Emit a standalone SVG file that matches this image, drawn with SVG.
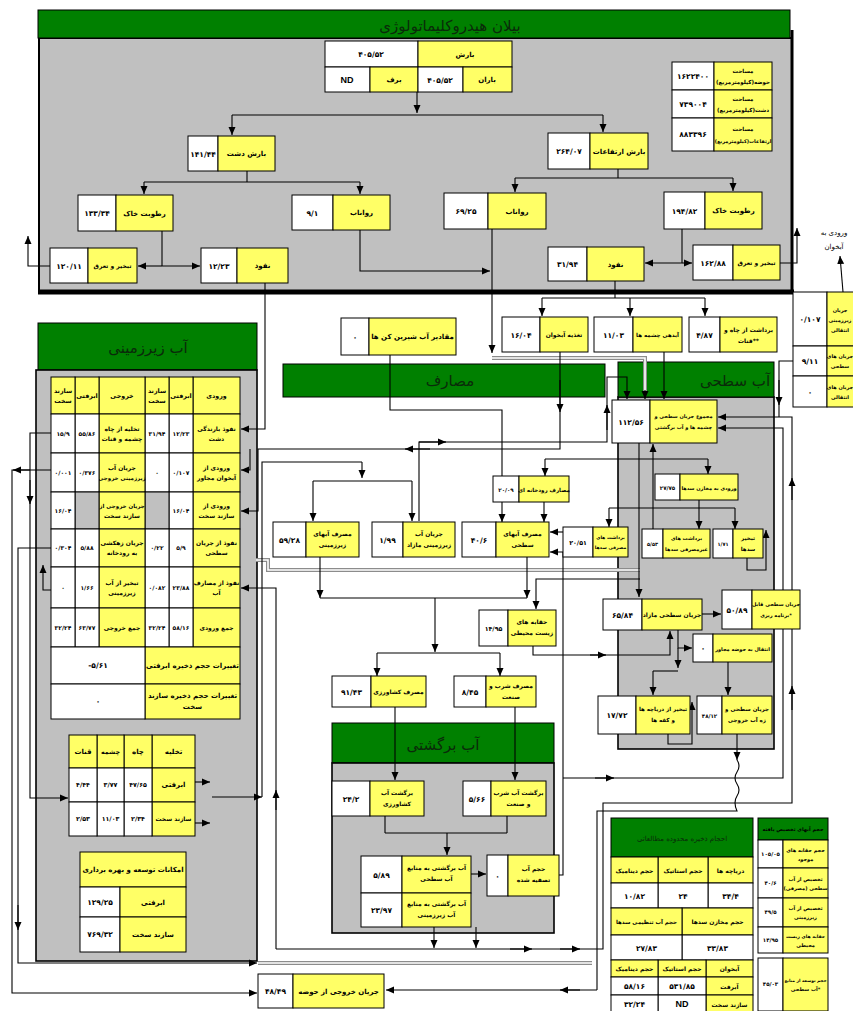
<svg xmlns="http://www.w3.org/2000/svg" width="853" height="1011" viewBox="0 0 853 1011">
<defs>
<style>
.w{fill:#fff;stroke:#000;stroke-width:1}
.y{fill:#ffff66;stroke:#000;stroke-width:1}
.gc{fill:#c0c0c0;stroke:#000;stroke-width:1}
.pn{fill:#c0c0c0;stroke:#000;stroke-width:1.6}
.hd{fill:#008000;stroke:#000;stroke-width:1}
text{font-family:"DejaVu Sans",sans-serif;font-weight:bold;text-anchor:middle;fill:#000}
.l{font-size:7px}
.m{font-size:6.3px}
.q{font-size:6px}
.k{font-size:5.5px}
.z{font-size:5px}
.s{font-size:5.5px}
.n{font-size:7.5px}
.h{font-size:15px;font-weight:normal;fill:#0a2a0a}
.c{fill:none;stroke:#000;stroke-width:1.1}
.a{marker-end:url(#ar)}
.gl{fill:none;stroke:#8c8c8c;stroke-width:4}
.gi{fill:none;stroke:#fff;stroke-width:1.6}
</style>
<marker id="ar" markerUnits="userSpaceOnUse" markerWidth="8" markerHeight="8" viewBox="0 0 8 8" refX="8" refY="4" orient="auto"><path d="M0,0.5 L8,4 L0,7.5z" fill="#000"/></marker>
</defs>
<rect width="853" height="1011" fill="#fff"/>

<!-- panels -->
<g id="hydro-panel">
<rect x="39" y="38" width="753" height="254" fill="#c0c0c0" stroke="#000" stroke-width="2"/>
<rect class="hd" x="38" y="10" width="752" height="28"/>
<text class="h" x="450" y="31">بیلان هیدروکلیماتولوژی</text>
<line x1="38" y1="292" x2="794" y2="292" stroke="#000" stroke-width="5"/>
<line x1="792" y1="30" x2="792" y2="294" stroke="#000" stroke-width="3"/>
</g>
<g id="gw-panel">
<rect class="hd" x="38" y="323" width="219" height="47"/>
<text class="h" x="148" y="353">آب زیرزمینی</text>
<rect class="pn" x="36" y="370" width="221" height="591"/>
</g>
<g id="use-panel">
<rect class="hd" x="283" y="364" width="322" height="33"/>
<text class="h" x="450" y="386">مصارف</text>
</g>
<g id="sw-panel">
<rect class="pn" x="618" y="397" width="156" height="352"/>
<rect class="hd" x="618" y="362" width="156" height="35"/>
<text class="h" x="735" y="386">آب سطحی</text>
</g>
<g id="rt-panel">
<rect class="hd" x="332" y="723" width="222" height="40"/>
<text class="h" x="443" y="750">آب برگشتی</text>
<rect class="pn" x="332" y="763" width="222" height="170"/>
</g>

<!-- connectors -->
<g id="connectors">
<path class="gl" d="M492,358 H645 V393"/><path class="gi" d="M492,358 H645 V393"/>
<path class="gl" d="M640,570 H268 V560 H256"/><path class="gi" d="M640,570 H268 V560 H256"/>
<path class="gl" d="M258,963 H592"/><path class="gi" d="M258,963 H592"/>
<path class="c a" d="M417,92 V113"/>
<path class="c" d="M232,115 H603"/>
<path class="c a" d="M232,115 V135"/>
<path class="c a" d="M603,115 V132"/>
<path class="c" d="M247,171 V182 M144,182 H360"/>
<path class="c a" d="M144,182 V194"/>
<path class="c a" d="M360,182 V194"/>
<path class="c" d="M618,169 V178 M515,178 H733"/>
<path class="c a" d="M515,178 V192"/>
<path class="c a" d="M733,178 V191"/>
<path class="c" d="M162,231 V266"/>
<path class="c a" d="M162,266 H138"/>
<path class="c a" d="M162,266 H200"/>
<path class="c" d="M682,229 V263"/>
<path class="c a" d="M682,263 H645"/>
<path class="c a" d="M682,263 H692"/>
<path class="c a" d="M50,266 H28 V236"/>
<path class="c a" d="M780,263 H797 V228"/>
<path class="c a" d="M360,230 V271 H490"/>
<path class="c a" d="M492,229 V353"/>
<path class="c a" d="M645,390 V399"/>
<path class="c a" d="M265,283 V429 H241"/>
<path class="c" d="M615,281 V298 M542,298 H705"/>
<path class="c a" d="M542,298 V316"/>
<path class="c a" d="M630,298 V316"/>
<path class="c a" d="M705,298 V316"/>
<path class="c a" d="M843,292 L840,256"/>
<path class="c a" d="M664,352 V399"/>
<path class="c a" d="M419,521 V442 H607 V377 H627 V399"/>
<path class="c a" d="M419,442 H446"/>
<path class="c a" d="M607,430 V405"/>
<path class="c" d="M390,355 V410 H502 V476"/>
<path class="c a" d="M560,352 V449 H258 V511 H241"/>
<path class="c a" d="M560,380 V412"/>
<path class="c a" d="M430,449 H405"/>
<path class="c a" d="M250,449 V470 H241"/>
<path class="c" d="M262,797 V462 H362"/>
<path class="c a" d="M362,462 V478"/>
<path class="c" d="M313,481 H412"/>
<path class="c a" d="M313,481 V521"/>
<path class="c a" d="M412,481 V521"/>
<path class="c a" d="M195,782 H210"/>
<path class="c a" d="M195,823 H210"/>
<path class="c a" d="M212,797 H262"/>
<path class="c a" d="M276,949 V588 H241"/>
<path class="c a" d="M276,810 V790"/>
<path class="c a" d="M51,433 H30 V798 H68"/>
<path class="c a" d="M30,480 V504"/>
<path class="c a" d="M12,987 V993 H257"/>
<path class="c" d="M51,470 H12 V987"/>
<path class="c a" d="M30,470 H13"/>
<path class="c a" d="M51,548 H18 V963 H257"/>
<path class="c a" d="M18,905 V930"/>
<path class="c a" d="M51,590 H43 V565"/>
<path class="c a" d="M639,443 V597"/>
<path class="c" d="M545,459 H708"/>
<path class="c a" d="M545,459 V476"/>
<path class="c a" d="M708,459 V474"/>
<path class="c a" d="M653,529 V444"/>
<path class="c" d="M699,500 V508 M609,508 H735"/>
<path class="c a" d="M609,508 V527"/>
<path class="c a" d="M699,508 V529"/>
<path class="c a" d="M735,508 V529"/>
<path class="c a" d="M502,502 V522"/>
<path class="c a" d="M544,502 V522"/>
<path class="c a" d="M563,532 H550"/>
<path class="c a" d="M747,558 V570 H766 V530"/>
<path class="c a" d="M320,557 V598"/>
<path class="c a" d="M527,557 V598"/>
<path class="c" d="M320,598 H527"/>
<path class="c a" d="M435,598 V652"/>
<path class="c" d="M377,653 H500"/>
<path class="c a" d="M377,653 V676"/>
<path class="c a" d="M500,653 V676"/>
<path class="c a" d="M640,579 H536 V609"/>
<path class="c a" d="M533,646 V655 H670 V631"/>
<path class="c a" d="M590,655 H606"/>
<path class="c a" d="M702,614 H721"/>
<path class="c a" d="M678,630 V648 H692"/>
<path class="c a" d="M678,648 V668"/>
<path class="c" d="M653,671 H678"/>
<path class="c a" d="M653,671 V695"/>
<path class="c a" d="M728,662 V695"/>
<path class="c a" d="M668,734 V744 H692 V702"/>
<path class="c a" d="M737,734 V760"/>
<path class="c" d="M737,760 q4,6 0,12 q-4,6 0,12 q4,6 0,12 q-4,6 0,15 H597 V990"/>
<path class="c a" d="M597,990 H386"/>
<path class="c a" d="M580,990 H560"/>
<path class="c a" d="M559,875 H563 V552 H550"/>
<path class="c a" d="M563,778 H783 V428 H718"/>
<path class="c a" d="M595,778 H614"/>
<path class="c a" d="M434,927 V948"/>
<path class="c a" d="M476,927 V948"/>
<path class="c a" d="M276,949 H603 V803 H792 V417 H718"/>
<path class="c a" d="M510,949 H532"/>
<path class="c a" d="M560,949 H580"/>
<path class="c a" d="M792,710 V686"/>
<path class="c a" d="M792,500 V478"/>
<path class="c" d="M793,361 H779 V417"/>
<path class="c a" d="M779,380 V405"/>
<path class="c a" d="M395,707 V780"/>
<path class="c a" d="M515,707 V780"/>
<path class="c" d="M385,816 V833 M507,816 V833 M385,833 H507"/>
<path class="c a" d="M447,833 V855"/>
<path class="c a" d="M471,874 H486"/>
</g>

<!-- top section nodes -->
<g id="n-rain">
<rect class="w" x="325" y="41" width="93" height="26"/><text class="n" x="371" y="57">۴۰۵/۵۲</text>
<rect class="y" x="418" y="41" width="94" height="26"/><text class="l" x="465" y="57">بارش</text>
<rect class="w" x="325" y="67" width="45" height="25"/><text x="347" y="83" font-size="9" style="font-family:'Liberation Sans',sans-serif">ND</text>
<rect class="y" x="370" y="67" width="48" height="25"/><text class="l" x="394" y="82">برف</text>
<rect class="w" x="418" y="67" width="45" height="25"/><text class="n" x="440" y="83">۴۰۵/۵۲</text>
<rect class="y" x="463" y="67" width="49" height="25"/><text class="l" x="487" y="82">باران</text>
</g>
<g id="n-area">
<rect class="w" x="672" y="62" width="42" height="28"/><text class="n" x="693" y="79">۱۶۲۲۴۰۰</text>
<rect class="y" x="714" y="62" width="58" height="28"/><text class="s" x="743" y="73">مساحت</text><text class="s" x="743" y="84">حوضه(کیلومترمربع)</text>
<rect class="w" x="672" y="90" width="42" height="28"/><text class="n" x="693" y="107">۷۳۹۰۰۴</text>
<rect class="y" x="714" y="90" width="58" height="28"/><text class="s" x="743" y="101">مساحت</text><text class="s" x="743" y="112">دشت(کیلومترمربع)</text>
<rect class="w" x="672" y="118" width="42" height="33"/><text class="n" x="693" y="137">۸۸۳۳۹۶</text>
<rect class="y" x="714" y="118" width="58" height="33"/><text class="s" x="743" y="131">مساحت</text><text class="z" x="743" y="143">ارتفاعات(کیلومترمربع)</text>
</g>
<g id="n-plain-rain"><rect class="w" x="188" y="136" width="30" height="35"/><text class="n" x="203" y="157">۱۴۱/۴۴</text><rect class="y" x="218" y="136" width="57" height="35"/><text class="l" x="246.5" y="156">بارش دشت</text></g>
<g id="n-soil-l"><rect class="w" x="78" y="195" width="38" height="36"/><text class="n" x="97" y="216">۱۳۳/۳۴</text><rect class="y" x="116" y="195" width="57" height="36"/><text class="l" x="144.5" y="215.5">رطوبت خاک</text></g>
<g id="n-runoff-l"><rect class="w" x="292" y="195" width="41" height="35"/><text class="n" x="312.5" y="215.5">۹/۱</text><rect class="y" x="333" y="195" width="57" height="35"/><text class="l" x="361.5" y="215">رواناب</text></g>
<g id="n-et-l"><rect class="w" x="50" y="248" width="38" height="35"/><text class="n" x="69" y="268.5">۱۲۰/۱۱</text><rect class="y" x="88" y="248" width="49" height="35"/><text class="q" x="112.5" y="268">تبخیر و تعرق</text></g>
<g id="n-inf-l"><rect class="w" x="201" y="248" width="36" height="35"/><text class="n" x="219" y="268.5">۱۲/۲۳</text><rect class="y" x="237" y="248" width="51" height="35"/><text class="l" x="262.5" y="268">نفوذ</text></g>
<g id="n-mt-rain"><rect class="w" x="548" y="133" width="42" height="36"/><text class="n" x="569" y="154">۲۶۴/۰۷</text><rect class="y" x="590" y="133" width="58" height="36"/><text class="l" x="619" y="153.5">بارش ارتفاعات</text></g>
<g id="n-runoff-r"><rect class="w" x="444" y="193" width="44" height="36"/><text class="n" x="466" y="214">۶۹/۲۵</text><rect class="y" x="488" y="193" width="58" height="36"/><text class="l" x="517" y="213.5">رواناب</text></g>
<g id="n-soil-r"><rect class="w" x="664" y="192" width="41" height="37"/><text class="n" x="684.5" y="213.5">۱۹۴/۸۲</text><rect class="y" x="705" y="192" width="57" height="37"/><text class="l" x="733.5" y="213">رطوبت خاک</text></g>
<g id="n-et-r"><rect class="w" x="693" y="245" width="40" height="35"/><text class="n" x="713" y="265.5">۱۶۲/۸۸</text><rect class="y" x="733" y="245" width="47" height="35"/><text class="q" x="756.5" y="265">تبخیر و تعرق</text></g>
<g id="n-inf-r"><rect class="w" x="548" y="247" width="39" height="34"/><text class="n" x="567.5" y="267">۳۱/۹۴</text><rect class="y" x="587" y="247" width="57" height="34"/><text class="l" x="615.5" y="266.5">نفوذ</text></g>
<g id="lbl-aq"><text class="l" x="834" y="235" style="font-weight:normal">ورودی به</text><text class="l" x="834" y="249" style="font-weight:normal">آبخوان</text></g>

<!-- middle row -->
<g id="n-desal"><rect class="w" x="341" y="318" width="28" height="37"/><text class="n" x="355" y="339.5">۰</text><rect class="y" x="369" y="318" width="87" height="37"/><text class="l" x="412.5" y="339">مقادیر آب شیرین کن ها</text></g>
<g id="n-recharge"><rect class="w" x="502" y="317" width="38" height="35"/><text class="n" x="521" y="337.5">۱۶/۰۴</text><rect class="y" x="540" y="317" width="48" height="35"/><text class="q" x="564" y="337">تغذیه آبخوان</text></g>
<g id="n-springs"><rect class="w" x="594" y="317" width="39" height="35"/><text class="n" x="613.5" y="337.5">۱۱/۰۳</text><rect class="y" x="633" y="317" width="49" height="35"/><text class="k" x="657.5" y="337">آبدهی چشمه ها</text></g>
<g id="n-wells"><rect class="w" x="689" y="317" width="31" height="35"/><text class="n" x="704.5" y="337.5">۴/۸۷</text><rect class="y" x="720" y="317" width="57" height="35"/><text class="q" x="748.5" y="332">برداشت از چاه و</text><text class="q" x="748.5" y="343">قنات**</text></g>
<g id="n-transfer">
<rect class="w" x="793" y="292" width="34" height="54"/><text class="n" x="810" y="322">۰/۱۰۷</text>
<rect class="y" x="827" y="292" width="40" height="54"/><text class="z" x="840" y="311.5">جریان</text><text class="z" x="840" y="321.5">زیرزمینی</text><text class="z" x="840" y="331.5">انتقالی</text>
<rect class="w" x="793" y="346" width="34" height="30"/><text class="n" x="810" y="364">۹/۱۱</text>
<rect class="y" x="827" y="346" width="40" height="30"/><text class="z" x="840" y="358">جریان های</text><text class="z" x="840" y="368">سطحی</text>
<rect class="w" x="793" y="376" width="34" height="31"/><text class="n" x="810" y="394.5">۰</text>
<rect class="y" x="827" y="376" width="40" height="31"/><text class="z" x="840" y="388.5">جریان های</text><text class="z" x="840" y="398.5">انتقالی</text>
</g>

<!-- groundwater table -->
<g id="gw-table">
<rect class="y" x="193" y="377" width="47" height="37"/><text class="m" x="216.5" y="398">ورودی</text>
<rect class="y" x="169" y="377" width="24" height="37"/><text class="m" x="181" y="398">ابرفتی</text>
<rect class="y" x="145" y="377" width="24" height="37"/><text class="m" x="157" y="393">سازند</text><text class="m" x="157" y="403">سخت</text>
<rect class="y" x="99" y="377" width="46" height="37"/><text class="m" x="122" y="398">خروجی</text>
<rect class="y" x="75" y="377" width="24" height="37"/><text class="m" x="87" y="398">ابرفتی</text>
<rect class="y" x="51" y="377" width="24" height="37"/><text class="m" x="63" y="393">سازند</text><text class="m" x="63" y="403">سخت</text>

<rect class="y" x="193" y="414" width="47" height="39"/><text class="q" x="216.5" y="431">نفوذ بارندگی</text><text class="q" x="216.5" y="441">دشت</text>
<rect class="w" x="169" y="414" width="24" height="39"/><text class="q" x="181" y="436">۱۲/۲۳</text>
<rect class="w" x="145" y="414" width="24" height="39"/><text class="q" x="157" y="436">۳۱/۹۴</text>
<rect class="y" x="99" y="414" width="46" height="39"/><text class="q" x="122" y="431">تخلیه از چاه</text><text class="q" x="122" y="441">چشمه و قنات</text>
<rect class="w" x="75" y="414" width="24" height="39"/><text class="q" x="87" y="436">۵۵/۸۶</text>
<rect class="w" x="51" y="414" width="24" height="39"/><text class="q" x="63" y="436">۱۵/۹</text>

<rect class="y" x="193" y="453" width="47" height="39"/><text class="q" x="216.5" y="470">ورودی از</text><text class="q" x="216.5" y="480">آبخوان مجاور</text>
<rect class="w" x="169" y="453" width="24" height="39"/><text class="q" x="181" y="475">۰/۱۰۷</text>
<rect class="w" x="145" y="453" width="24" height="39"/><text class="q" x="157" y="475">۰</text>
<rect class="y" x="99" y="453" width="46" height="39"/><text class="q" x="122" y="470">جریان آب</text><text class="k" x="122" y="480">زیرزمینی خروجی</text>
<rect class="w" x="75" y="453" width="24" height="39"/><text class="q" x="87" y="475">۰/۳۷۶</text>
<rect class="w" x="51" y="453" width="24" height="39"/><text class="q" x="63" y="475">۰/۰۰۱</text>

<rect class="y" x="193" y="492" width="47" height="37"/><text class="q" x="216.5" y="508">ورودی از</text><text class="q" x="216.5" y="518">سازند سخت</text>
<rect class="w" x="169" y="492" width="24" height="37"/><text class="q" x="181" y="513">۱۶/۰۴</text>
<rect class="gc" x="145" y="492" width="24" height="37"/>
<rect class="y" x="99" y="492" width="46" height="37"/><text class="k" x="122" y="508">جریان خروجی از</text><text class="q" x="122" y="518">سازند سخت</text>
<rect class="gc" x="75" y="492" width="24" height="37"/>
<rect class="w" x="51" y="492" width="24" height="37"/><text class="q" x="63" y="513">۱۶/۰۴</text>

<rect class="y" x="193" y="529" width="47" height="38"/><text class="q" x="216.5" y="545">نفوذ از جریان</text><text class="q" x="216.5" y="555">سطحی</text>
<rect class="w" x="169" y="529" width="24" height="38"/><text class="q" x="181" y="550">۵/۹</text>
<rect class="w" x="145" y="529" width="24" height="38"/><text class="q" x="157" y="550">۰/۲۲</text>
<rect class="y" x="99" y="529" width="46" height="38"/><text class="q" x="122" y="545">جریان زهکشی</text><text class="q" x="122" y="555">به رودخانه</text>
<rect class="w" x="75" y="529" width="24" height="38"/><text class="q" x="87" y="550">۵/۸۸</text>
<rect class="w" x="51" y="529" width="24" height="38"/><text class="q" x="63" y="550">۰/۳۰۴</text>

<rect class="y" x="193" y="567" width="47" height="41"/><text class="q" x="216.5" y="585">نفوذ از مصارف</text><text class="q" x="216.5" y="595">آب</text>
<rect class="w" x="169" y="567" width="24" height="41"/><text class="q" x="181" y="590">۲۳/۸۸</text>
<rect class="w" x="145" y="567" width="24" height="41"/><text class="q" x="157" y="590">۰/۰۸۲</text>
<rect class="y" x="99" y="567" width="46" height="41"/><text class="q" x="122" y="585">تبخیر از آب</text><text class="q" x="122" y="595">زیرزمینی</text>
<rect class="w" x="75" y="567" width="24" height="41"/><text class="q" x="87" y="590">۱/۶۶</text>
<rect class="w" x="51" y="567" width="24" height="41"/><text class="q" x="63" y="590">۰</text>

<rect class="y" x="193" y="608" width="47" height="39"/><text class="q" x="216.5" y="630">جمع ورودی</text>
<rect class="w" x="169" y="608" width="24" height="39"/><text class="q" x="181" y="630">۵۸/۱۶</text>
<rect class="w" x="145" y="608" width="24" height="39"/><text class="q" x="157" y="630">۳۲/۲۴</text>
<rect class="y" x="99" y="608" width="46" height="39"/><text class="q" x="122" y="630">جمع خروجی</text>
<rect class="w" x="75" y="608" width="24" height="39"/><text class="q" x="87" y="630">۶۳/۷۷</text>
<rect class="w" x="51" y="608" width="24" height="39"/><text class="q" x="63" y="630">۳۲/۲۴</text>

<rect class="y" x="145" y="647" width="95" height="37"/><text class="l" x="192.5" y="668">تغییرات حجم ذخیره ابرفتی</text>
<rect class="w" x="51" y="647" width="94" height="37"/><text class="n" x="98" y="668">-۵/۶۱</text>
<rect class="y" x="145" y="684" width="95" height="35"/><text class="l" x="192.5" y="698">تغییرات حجم ذخیره سازند</text><text class="l" x="192.5" y="709">سخت</text>
<rect class="w" x="51" y="684" width="94" height="35"/><text class="n" x="98" y="704">۰</text>
</g>

<g id="discharge-table">
<rect class="y" x="152" y="735" width="43" height="33"/><text class="l" x="173.5" y="754">تخلیه</text>
<rect class="y" x="124" y="735" width="28" height="33"/><text class="l" x="138" y="754">چاه</text>
<rect class="y" x="97" y="735" width="27" height="33"/><text class="m" x="110.5" y="754">چشمه</text>
<rect class="y" x="69" y="735" width="28" height="33"/><text class="l" x="83" y="754">قنات</text>
<rect class="y" x="152" y="768" width="43" height="34"/><text class="l" x="173.5" y="787">ابرفتی</text>
<rect class="w" x="124" y="768" width="28" height="34"/><text class="m" x="138" y="787">۴۷/۶۵</text>
<rect class="w" x="97" y="768" width="27" height="34"/><text class="m" x="110.5" y="787">۳/۷۷</text>
<rect class="w" x="69" y="768" width="28" height="34"/><text class="m" x="83" y="787">۴/۴۴</text>
<rect class="y" x="152" y="802" width="43" height="34"/><text class="q" x="173.5" y="821">سازند سخت</text>
<rect class="w" x="124" y="802" width="28" height="34"/><text class="m" x="138" y="821">۲/۳۴</text>
<rect class="w" x="97" y="802" width="27" height="34"/><text class="m" x="110.5" y="821">۱۱/۰۳</text>
<rect class="w" x="69" y="802" width="28" height="34"/><text class="m" x="83" y="821">۲/۵۳</text>
</g>
<g id="dev-table">
<rect class="y" x="80" y="852" width="106" height="35"/><text class="l" x="133" y="872">امکانات توسعه و بهره برداری</text>
<rect class="w" x="80" y="887" width="40" height="30"/><text class="n" x="100" y="905">۱۲۹/۲۵</text>
<rect class="y" x="120" y="887" width="66" height="30"/><text class="l" x="153" y="905">ابرفتی</text>
<rect class="w" x="80" y="917" width="40" height="35"/><text class="n" x="100" y="937">۷۶۹/۳۲</text>
<rect class="y" x="120" y="917" width="66" height="35"/><text class="l" x="153" y="937">سازند سخت</text>
</g>

<!-- consumption -->
<g id="n-river-use"><rect class="w" x="493" y="476" width="26" height="26"/><text class="k" x="506" y="491.5">۲۰/۰۹</text><rect class="y" x="519" y="476" width="50" height="26"/><text class="k" x="544" y="491.5">مصارف رودخانه ای</text></g>
<g id="n-sw-use"><rect class="w" x="462" y="522" width="34" height="35"/><text class="n" x="479" y="542.5">۴۰/۶</text><rect class="y" x="496" y="522" width="53" height="35"/><text class="q" x="522.5" y="535.5">مصرف آبهای</text><text class="q" x="522.5" y="546.5">سطحی</text></g>
<g id="n-gw-surplus"><rect class="w" x="372" y="522" width="31" height="35"/><text class="n" x="387.5" y="542.5">۱/۹۹</text><rect class="y" x="403" y="522" width="52" height="35"/><text class="q" x="429" y="535.5">جریان آب</text><text class="q" x="429" y="546.5">زیرزمینی مازاد</text></g>
<g id="n-gw-use"><rect class="w" x="273" y="522" width="33" height="35"/><text class="n" x="289.5" y="542.5">۵۹/۲۸</text><rect class="y" x="306" y="522" width="53" height="35"/><text class="q" x="332.5" y="535.5">مصرف آبهای</text><text class="q" x="332.5" y="546.5">زیرزمینی</text></g>
<g id="n-env"><rect class="w" x="479" y="610" width="29" height="36"/><text class="m" x="493.5" y="631">۱۴/۹۵</text><rect class="y" x="508" y="610" width="48" height="36"/><text class="q" x="532" y="624">حقابه های</text><text class="q" x="532" y="635">زیست محیطی</text></g>
<g id="n-agri"><rect class="w" x="332" y="676" width="39" height="31"/><text class="n" x="351.5" y="694.5">۹۱/۴۳</text><rect class="y" x="371" y="676" width="55" height="31"/><text class="q" x="398.5" y="694">مصرف کشاورزی</text></g>
<g id="n-dom"><rect class="w" x="454" y="676" width="32" height="31"/><text class="n" x="470" y="694.5">۸/۴۵</text><rect class="y" x="486" y="676" width="50" height="31"/><text class="q" x="511" y="688">مصرف شرب و</text><text class="q" x="511" y="699">صنعت</text></g>

<!-- surface water -->
<g id="n-sw-total"><rect class="w" x="612" y="400" width="38" height="43"/><text class="n" x="631" y="424.5">۱۱۲/۵۶</text><rect class="y" x="650" y="400" width="67" height="43"/><text class="z" x="683.5" y="418">مجموع جریان سطحی و</text><text class="z" x="683.5" y="429">چشمه ها و آب برگشتی</text></g>
<g id="n-dam-in"><rect class="w" x="655" y="474" width="25" height="26"/><text class="k" x="667.5" y="489.5">۲۷/۷۵</text><rect class="y" x="680" y="474" width="58" height="26"/><text class="z" x="709" y="489.5">ورودی به مخازن سدها</text></g>
<g id="n-dam-cons"><rect class="w" x="563" y="527" width="30" height="30"/><text class="m" x="578" y="545">۲۰/۵۱</text><rect class="y" x="593" y="527" width="35" height="30"/><text class="z" x="610.5" y="539" style="font-size:4.6px">برداشت های</text><text class="z" x="610.5" y="549" style="font-size:4.6px">مصرفی سدها</text></g>
<g id="n-dam-noncons"><rect class="w" x="642" y="529" width="21" height="29"/><text class="z" x="652.5" y="546">۵/۵۳</text><rect class="y" x="663" y="529" width="47" height="29"/><text class="z" x="686.5" y="540">برداشت های</text><text class="z" x="686.5" y="550.5">غیرمصرفی سدها</text></g>
<g id="n-dam-evap"><rect class="w" x="713" y="529" width="20" height="29"/><text class="z" x="723" y="546">۱/۷۱</text><rect class="y" x="733" y="529" width="30" height="29"/><text class="k" x="748" y="540">تبخیر</text><text class="k" x="748" y="550.5">سدها</text></g>
<g id="n-sw-surplus"><rect class="w" x="603" y="599" width="39" height="31"/><text class="n" x="622.5" y="617.5">۶۵/۸۴</text><rect class="y" x="642" y="599" width="60" height="31"/><text class="q" x="672" y="617">جریان سطحی مازاد</text></g>
<g id="n-plannable"><rect class="w" x="722" y="590" width="30" height="39"/><text class="n" x="737" y="612.5">۵۰/۸۹</text><rect class="y" x="752" y="590" width="48" height="39"/><text class="z" x="776" y="606">جریان سطحی قابل</text><text class="z" x="776" y="616.5">برنامه ریزی*</text></g>
<g id="n-basin-transfer"><rect class="w" x="693" y="634" width="20" height="28"/><text class="n" x="703" y="651">۰</text><rect class="y" x="713" y="634" width="59" height="28"/><text class="z" x="742.5" y="650.5">انتقال به حوضه مجاور</text></g>
<g id="n-lake-evap"><rect class="w" x="598" y="696" width="38" height="38"/><text class="n" x="617" y="718">۱۷/۷۲</text><rect class="y" x="636" y="696" width="54" height="38"/><text class="k" x="663" y="711">تبخیر از دریاچه ها</text><text class="k" x="663" y="722">و کفه ها</text></g>
<g id="n-sw-out"><rect class="w" x="697" y="696" width="25" height="38"/><text class="k" x="709.5" y="718">۴۸/۱۲</text><rect class="y" x="722" y="696" width="50" height="38"/><text class="k" x="747" y="711">جریان سطحی و</text><text class="k" x="747" y="722">زه آب خروجی</text></g>

<!-- return water -->
<g id="n-ret-agri"><rect class="w" x="332" y="781" width="38" height="35"/><text class="n" x="351" y="801.5">۲۴/۲</text><rect class="y" x="370" y="781" width="54" height="35"/><text class="q" x="397" y="794.5">برگشت آب</text><text class="q" x="397" y="805.5">کشاورزی</text></g>
<g id="n-ret-dom"><rect class="w" x="463" y="781" width="28" height="35"/><text class="n" x="477" y="801.5">۵/۶۶</text><rect class="y" x="491" y="781" width="55" height="35"/><text class="q" x="518.5" y="794.5">برگشت آب شرب</text><text class="q" x="518.5" y="805.5">و صنعت</text></g>
<g id="n-ret-sw"><rect class="w" x="361" y="856" width="41" height="37"/><text class="n" x="381.5" y="877.5">۵/۸۹</text><rect class="y" x="402" y="856" width="69" height="37"/><text class="q" x="436.5" y="870">آب برگشتی به منابع</text><text class="q" x="436.5" y="881">آب سطحی</text></g>
<g id="n-ret-gw"><rect class="w" x="361" y="893" width="41" height="34"/><text class="n" x="381.5" y="913">۲۳/۹۷</text><rect class="y" x="402" y="893" width="69" height="34"/><text class="q" x="436.5" y="905.5">آب برگشتی به منابع</text><text class="q" x="436.5" y="916.5">آب زیرزمینی</text></g>
<g id="n-treated"><rect class="w" x="487" y="855" width="21" height="41"/><text class="n" x="497.5" y="878.5">۰</text><rect class="y" x="508" y="855" width="51" height="41"/><text class="q" x="533.5" y="871">حجم آب</text><text class="q" x="533.5" y="882">تصفیه شده</text></g>
<g id="n-basin-out"><rect class="w" x="258" y="974" width="35" height="34"/><text class="n" x="275.5" y="994">۴۸/۴۹</text><rect class="y" x="293" y="974" width="91" height="34"/><text class="l" x="338.5" y="993.5">جریان خروجی از حوضه</text></g>

<!-- storage table -->
<g id="storage-table">
<rect class="hd" x="611" y="818" width="142" height="39"/><text class="l" x="682" y="841" style="fill:#0a2a0a;font-weight:normal">احجام ذخیره محدوده مطالعاتی</text>
<rect class="y" x="708" y="857" width="45" height="26"/><text class="q" x="730.5" y="873">دریاچه ها</text>
<rect class="y" x="658" y="857" width="50" height="26"/><text class="q" x="683" y="873">حجم استاتیک</text>
<rect class="y" x="611" y="857" width="47" height="26"/><text class="q" x="634.5" y="873">حجم دینامیک</text>
<rect class="w" x="708" y="883" width="45" height="25"/><text class="n" x="730.5" y="899">۳۴/۴</text>
<rect class="w" x="658" y="883" width="50" height="25"/><text class="n" x="683" y="899">۲۴</text>
<rect class="w" x="611" y="883" width="47" height="25"/><text class="n" x="634.5" y="899">۱۰/۸۲</text>
<rect class="y" x="682" y="908" width="71" height="27"/><text class="q" x="717.5" y="924">حجم مخازن سدها</text>
<rect class="y" x="611" y="908" width="71" height="27"/><text class="k" x="646.5" y="924">حجم آب تنظیمی سدها</text>
<rect class="w" x="682" y="935" width="71" height="25"/><text class="n" x="717.5" y="951">۳۳/۸۳</text>
<rect class="w" x="611" y="935" width="71" height="25"/><text class="n" x="646.5" y="951">۲۷/۸۳</text>
<rect class="y" x="706" y="960" width="47" height="17"/><text class="q" x="729.5" y="971">آبخوان</text>
<rect class="y" x="658" y="960" width="48" height="17"/><text class="q" x="682" y="971">حجم استاتیک</text>
<rect class="y" x="611" y="960" width="47" height="17"/><text class="q" x="634.5" y="971">حجم دینامیک</text>
<rect class="y" x="706" y="977" width="47" height="18"/><text class="q" x="729.5" y="989">آبرفت</text>
<rect class="w" x="658" y="977" width="48" height="18"/><text class="n" x="682" y="989">۵۳۱/۸۵</text>
<rect class="w" x="611" y="977" width="47" height="18"/><text class="n" x="634.5" y="989">۵۸/۱۶</text>
<rect class="y" x="706" y="995" width="47" height="18"/><text class="q" x="729.5" y="1007">سازند سخت</text>
<rect class="w" x="658" y="995" width="48" height="18"/><text x="682" y="1007" font-size="9" style="font-family:'Liberation Sans',sans-serif">ND</text>
<rect class="w" x="611" y="995" width="47" height="18"/><text class="n" x="634.5" y="1007">۳۲/۲۴</text>
</g>

<g id="alloc-table">
<rect class="hd" x="758" y="818" width="70" height="22"/><text class="z" x="793" y="831">حجم آبهای تخصیص یافته</text>
<rect class="w" x="758" y="840" width="25" height="28"/><text class="s" x="770.5" y="856">۱۰۵/۰۵</text>
<rect class="y" x="783" y="840" width="45" height="28"/><text class="z" x="805.5" y="852">حجم حقابه های</text><text class="z" x="805.5" y="861">موجود</text>
<rect class="w" x="758" y="868" width="25" height="30"/><text class="s" x="770.5" y="885">۴۰/۶</text>
<rect class="y" x="783" y="868" width="45" height="30"/><text class="z" x="805.5" y="881">تخصیص از آب</text><text class="z" x="805.5" y="890">سطحی (مصرفی)</text>
<rect class="w" x="758" y="898" width="25" height="29"/><text class="s" x="770.5" y="914">۴۹/۵</text>
<rect class="y" x="783" y="898" width="45" height="29"/><text class="z" x="805.5" y="910">تخصیص از آب</text><text class="z" x="805.5" y="919">زیرزمینی</text>
<rect class="w" x="758" y="927" width="25" height="26"/><text class="s" x="770.5" y="942">۱۴/۹۵</text>
<rect class="y" x="783" y="927" width="45" height="26"/><text class="z" x="805.5" y="938" style="font-size:4.6px">حقابه های زیست</text><text class="z" x="805.5" y="947">محیطی</text>
</g>
<g id="n-dev-sw">
<rect class="w" x="758" y="958" width="25" height="53"/><text class="s" x="770.5" y="986">۴۵/۰۳</text>
<rect class="y" x="783" y="958" width="45" height="53"/><text class="z" x="805.5" y="982" style="font-size:4.3px">حجم توسعه از منابع</text><text class="z" x="805.5" y="991">آب سطحی*</text>
</g>
</svg>
